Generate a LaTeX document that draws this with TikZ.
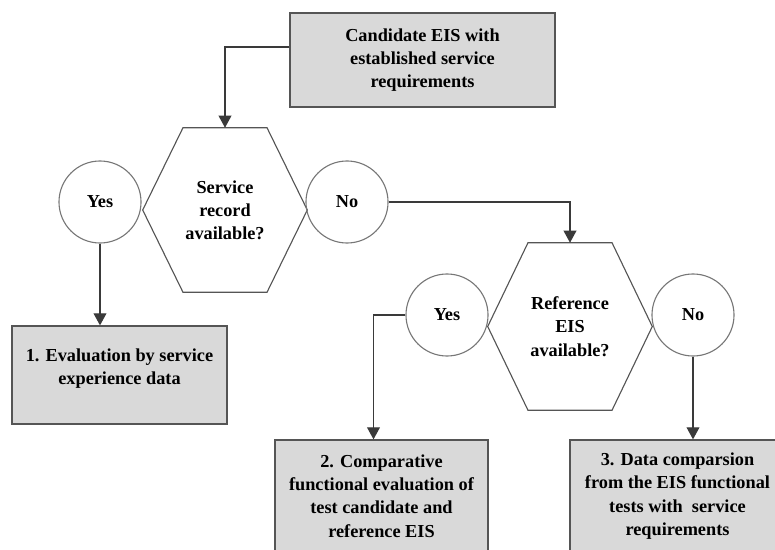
\documentclass[tikz,border=0pt]{standalone}
\usepackage{fontspec}
\setmainfont{Liberation Serif}[BoldFont={Liberation Serif Bold}]
\usepackage{tikz}
\usetikzlibrary{arrows.meta,calc}

\definecolor{boxfill}{HTML}{D9D9D9}
\definecolor{edgegray}{HTML}{555555}
\definecolor{wiregray}{HTML}{3A3A3A}

\tikzset{
	labelfont/.style={font=\bfseries\fontsize{13}{16.5}\selectfont},
	procbox/.style={labelfont, draw=edgegray, fill=boxfill, line width=0.9pt, align=center, inner sep=0pt},
	decision/.style={labelfont, align=center, inner sep=0pt, minimum width=4.1cm, minimum height=4.1cm},
	answer/.style={labelfont, circle, draw=edgegray!80, line width=0.8pt, minimum size=2.05cm, inner sep=0pt},
	hexline/.style={draw=edgegray, line width=0.8pt},
	flow/.style={draw=wiregray, line width=0.8pt, -{Triangle[width=0.32cm, length=0.3cm]}}
}

% hexagon round a decision node
\newcommand{\hexframe}[1]{%
	\draw[hexline] ($(#1.north)+(-42,0)$) -- ($(#1.north)+(42,0)$) -- (#1.east)
		-- ($(#1.south)+(42,0)$) -- ($(#1.south)+(-42,0)$) -- (#1.west) -- cycle;}

\begin{document}
\begin{tikzpicture}[x=0.025cm, y=-0.025cm]
	\clip (0,0) rectangle (775,550);
	% Boxes, decisions and answers:
	\node[procbox, minimum width=6.625cm, minimum height=2.35cm] (start) at (422.5,60) {Candidate EIS with\\established service\\requirements};
	\node[decision] (q1) at (225,210) {Service\\record\\available?};
	\hexframe{q1}
	\node[answer] (yes1) at (100,202) {Yes};
	\node[answer] (no1) at (347,202) {No};
	\node[decision, minimum height=4.175cm] (q2) at (570,326.5) {Reference\\EIS\\available?};
	\hexframe{q2}
	\node[answer] (yes2) at (447,315) {Yes};
	\node[answer] (no2) at (693,315) {No};
	\node[procbox, minimum width=5.375cm, minimum height=2.45cm, text depth=0.4cm] (box1) at (119.5,375) {1. Evaluation by service\\experience data};
	\node[procbox, minimum width=5.325cm, minimum height=2.8cm] (box2) at (381.5,496) {2. Comparative\\functional evaluation of\\test candidate and\\reference EIS};
	\node[procbox, minimum width=5.375cm, minimum height=2.8cm] (box3) at (677.5,496) {3. Data comparsion\\from the EIS functional\\tests with~ service\\requirements};
	% Wires:
	\draw[flow] ([yshift=0.325cm]start.west) -| (q1.north);
	\draw[flow] (yes1.south) -- (yes1.south |- box1.north);
	\draw[flow] (no1.east) -| (q2.north);
	\draw[flow] (yes2.west) -| ([xshift=-0.2cm]box2.north);
	\draw[flow] (no2.south) -- (no2.south |- box3.north);
\end{tikzpicture}
\end{document}
